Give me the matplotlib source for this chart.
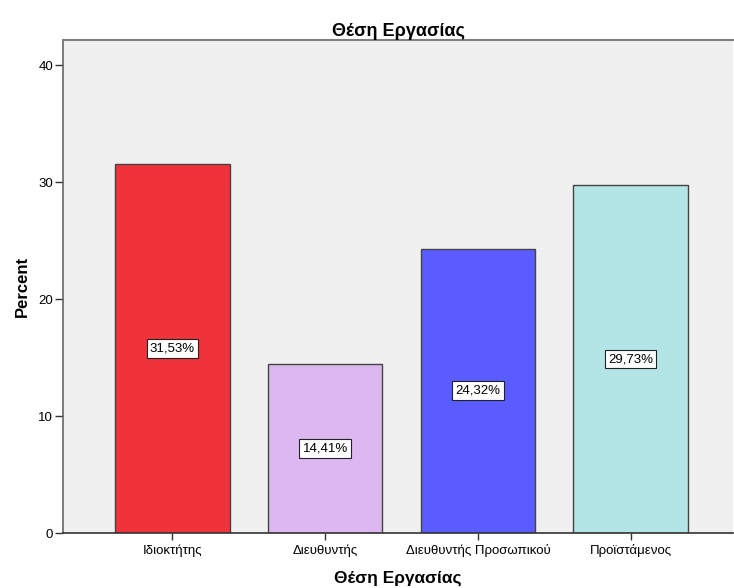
import matplotlib.pyplot as plt

# 数据
categories = ['Ιδιοκτήτης', 'Διευθυντής', 'Διευθυντής Προσωπικού', 'Προϊστάμενος']
percents = [31.53, 14.41, 24.32, 29.73]
bar_colors = ['#F0323A', '#DDB8F0', '#5A5CFF', '#B3E5E6']
y_ticks = [0, 10, 20, 30, 40]

plt.rcParams['font.family'] = ['Liberation Sans', 'DejaVu Sans']

fig = plt.figure(figsize=(7.34, 5.88), dpi=100)
ax = fig.add_axes([63 / 734, 1 - 533 / 588, 670 / 734, 493 / 588])
ax.set_facecolor('#F0F0F0')

x = range(len(categories))
ax.bar(x, percents, width=0.75, color=bar_colors, edgecolor='#444444', linewidth=1.0, zorder=2)

for xi, val in zip(x, percents):
    label = f'{val:.2f}%'.replace('.', ',')
    ax.text(xi, val / 2, label, ha='center', va='center', fontsize=9.5, zorder=3,
            bbox=dict(boxstyle='square,pad=0.25', facecolor='white', edgecolor='#222222', linewidth=0.8))

ax.set_xlim(-0.716, 3.67)
ax.set_ylim(0, 42.15)
ax.set_yticks(y_ticks)
ax.set_xticks(list(x))
ax.set_xticklabels(categories, fontsize=9.5)
ax.tick_params(axis='y', labelsize=9.5, length=6, width=1, color='#333333', pad=1)
ax.tick_params(axis='x', length=5, width=1, color='#333333', pad=3)

ax.spines['right'].set_visible(False)
ax.spines['top'].set_color('#808080')
ax.spines['top'].set_linewidth(1.5)
ax.spines['left'].set_color('#666666')
ax.spines['left'].set_linewidth(1.2)
ax.spines['bottom'].set_color('#333333')
ax.spines['bottom'].set_linewidth(1.2)

ax.set_title('Θέση Εργασίας', fontsize=13, fontweight='bold', pad=3)
ax.set_xlabel('Θέση Εργασίας', fontsize=12.5, fontweight='bold', labelpad=10)
ax.set_ylabel('Percent', fontsize=12, fontweight='bold', labelpad=6)

fig.savefig('out.png', dpi=100)
